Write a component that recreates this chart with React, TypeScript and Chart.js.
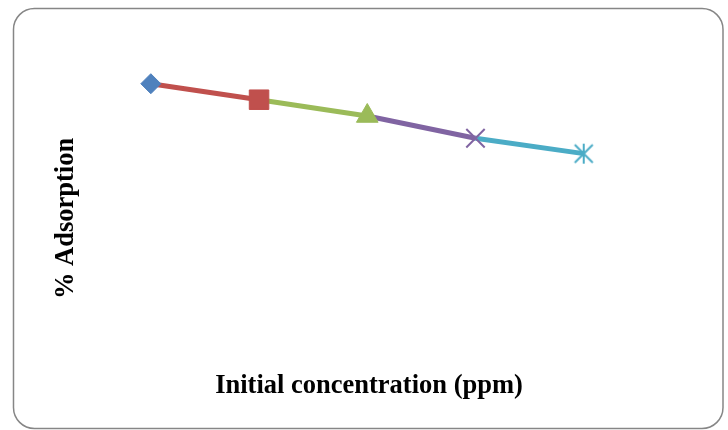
import React, { useEffect, useRef } from "react";
import { Chart, registerables } from "chart.js";

Chart.register(...registerables);

const concentrations = [10, 20, 30, 40, 50];
const adsorption = [95.5, 90.1, 84.6, 77.1, 71.9];
const pointColors = ["#4F81BD", "#C0504D", "#9BBB59", "#8064A2", "#4BACC6"];
const xTitle = "Initial concentration (ppm)";
const yTitle = "% Adsorption";

function makeStar(color: string): HTMLCanvasElement {
  const c = document.createElement("canvas");
  c.width = 24;
  c.height = 24;
  const g = c.getContext("2d")!;
  g.strokeStyle = color;
  g.lineWidth = 2;
  g.beginPath();
  g.moveTo(12, 2);
  g.lineTo(12, 22);
  g.moveTo(3, 3);
  g.lineTo(21, 21);
  g.moveTo(21, 3);
  g.lineTo(3, 21);
  g.stroke();
  return c;
}

const frame = {
  id: "frame",
  beforeDraw(chart: any) {
    const ctx = chart.ctx;
    ctx.save();
    ctx.fillStyle = "#ffffff";
    ctx.fillRect(0, 0, chart.width, chart.height);
    ctx.strokeStyle = "#868686";
    ctx.lineWidth = 1.5;
    ctx.beginPath();
    ctx.roundRect(13.5, 8.5, 709.5, 420, 21);
    ctx.stroke();
    ctx.restore();
  },
};

export default function App() {
  const ref = useRef<HTMLCanvasElement | null>(null);
  useEffect(() => {
    if (!ref.current) return;
    const titleFont = {
      family: "'Liberation Serif', 'Times New Roman', serif",
      size: 26.5,
      weight: "bold" as const,
    };
    const chart = new Chart(ref.current, {
      type: "line",
      data: {
        datasets: [
          {
            data: concentrations.map((x, i) => ({ x, y: adsorption[i] })),
            borderWidth: 5,
            tension: 0,
            clip: false as any,
            segment: {
              borderColor: (ctx: any) => pointColors[ctx.p1DataIndex],
            },
            borderColor: pointColors[1],
            pointStyle: ["rectRot", "rect", "triangle", "crossRot", makeStar(pointColors[4])] as any,
            pointRadius: [10, 13.8, 12.5, 13, 12],
            pointBackgroundColor: pointColors,
            pointBorderColor: pointColors,
            pointBorderWidth: [1, 1, 1, 2, 1],
          },
        ],
      },
      options: {
        animation: false,
        responsive: false,
        plugins: { legend: { display: false }, tooltip: { enabled: false } },
        layout: { padding: { left: 46.1, right: 86.7, top: 70.4, bottom: 23.6 } },
        scales: {
          x: {
            type: "linear",
            min: 5,
            max: 55.32,
            ticks: { display: false },
            grid: { display: false, drawTicks: false },
            border: { display: false },
            title: { display: true, text: xTitle, font: titleFont, color: "#000", padding: { top: 4, bottom: 4 } },
          },
          y: {
            min: 0,
            max: 100,
            ticks: { display: false },
            grid: { display: false, drawTicks: false },
            border: { display: false },
            title: { display: true, text: yTitle, font: titleFont, color: "#000", padding: { top: 4, bottom: 14.8 } },
          },
        },
      },
      plugins: [frame],
    });
    return () => chart.destroy();
  }, []);
  return (
    <div style={{ position: "fixed", left: 0, top: 0, width: 728, height: 430, background: "#fff" }}>
      <canvas ref={ref} width={728} height={430} style={{ width: 728, height: 430 }} />
    </div>
  );
}
